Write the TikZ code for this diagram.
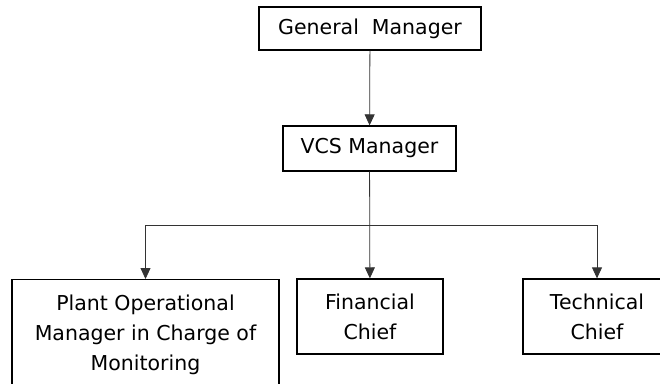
\documentclass[tikz,border=0pt]{standalone}
\usepackage{fontspec}
\setmainfont{DejaVu Sans}
\usetikzlibrary{arrows.meta}
\begin{document}
\begin{tikzpicture}[x=1pt,y=-1pt,
	box/.style={draw,line width=1.3pt,align=center,inner sep=0pt,font=\fontsize{20.5}{30}\selectfont},
	link/.style={line width=0.8pt,draw=black!80,-{Triangle[length=11pt,width=10pt]}}]
				\clip(0,0)rectangle(660,383);
				\node[box,minimum width=222pt,minimum height=43pt](gm)at(370,28.5){General\ \ Manager};
				\node[box,minimum width=173pt,minimum height=45pt](vcs)at(369.5,148.5){VCS Manager};
				\node[box,anchor=north,minimum width=267pt,inner ysep=15.4pt,text depth=40pt](plant)at(145.5,279){Plant Operational\\Manager in Charge of\\Monitoring};
				\node[box,minimum width=146pt,minimum height=75pt](fin)at(370,316.5){Financial\\Chief};
				\node[box,minimum width=148pt,minimum height=75pt](tech)at(597,316.5){Technical\\Chief};
				\coordinate(split)at(370,225);
				\draw[link](gm)--(vcs);
				\draw[link](vcs)--(fin);
				\draw[link](split)-|(plant);
				\draw[link](split)-|(tech);
			\end{tikzpicture}
\end{document}
